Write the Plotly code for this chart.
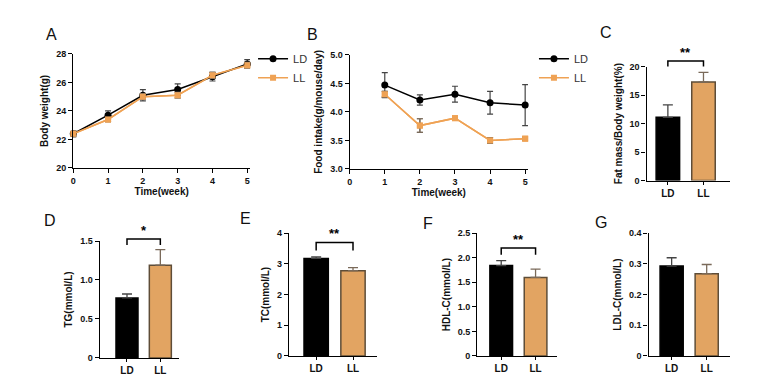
import plotly.graph_objects as go

W, H = 769, 390
OFF = 8  # page body margin in the browser

# ---------------- data ----------------
weeks_a = [0, 1, 2, 3, 4, 5]
bw_ld = [22.4, 23.7, 25.1, 25.5, 26.4, 27.3]
bw_ld_err = [0.2, 0.3, 0.4, 0.4, 0.3, 0.3]
bw_ll = [22.4, 23.4, 25.0, 25.1, 26.5, 27.2]
bw_ll_err = [0.2, 0.15, 0.2, 0.2, 0.2, 0.2]

weeks_b = [1, 2, 3, 4, 5]
fi_ld = [4.47, 4.21, 4.31, 4.16, 4.12]
fi_ld_err = [0.22, 0.09, 0.14, 0.2, 0.36]
fi_ll = [4.31, 3.76, 3.89, 3.50, 3.53]
fi_ll_err = [0.05, 0.12, 0.02, 0.05, 0.03]

groups = ["LD", "LL"]
fat = [11.1, 17.3]; fat_err = [2.2, 1.7]
tg = [0.77, 1.19]; tg_err = [0.05, 0.2]
tc = [3.18, 2.78]; tc_err = [0.05, 0.1]
hdl = [1.84, 1.60]; hdl_err = [0.1, 0.17]
ldl = [0.293, 0.268]; ldl_err = [0.027, 0.03]

BLACK = "#000000"
ORANGE_LINE = "#EFA254"
ORANGE_BAR = "#E2A462"
BAR_EDGE = "#5E4D38"
FONT = "Liberation Sans, Arial, sans-serif"

fig = go.Figure()

def px_x(p):
    return (p - OFF) / W

def px_y(p):
    return 1 - (p - OFF) / H

axis_common = dict(showline=True, linecolor="black", linewidth=1.3, ticks="outside",
                   ticklen=4, tickwidth=1.2, tickcolor="black", showgrid=False, zeroline=False,
                   tickfont=dict(family=FONT, size=9, color="#111", weight="bold"),
                   title_font=dict(family=FONT, size=10, color="#111", weight="bold"))

panels = {
    1: dict(xd=(70.5, 248), yd=(50, 167), xr=[0, 5.08], yr=[20, 28], yt=[20, 22, 24, 26, 28],
            yl=["20", "22", "24", "26", "28"], ytitle="Body weight(g)"),
    2: dict(xd=(348, 527), yd=(51, 168), xr=[0, 5.08], yr=[3, 5], yt=[3, 3.5, 4, 4.5, 5],
            yl=["3.0", "3.5", "4.0", "4.5", "5.0"], ytitle="Food intake(g/mouse/day)"),
    3: dict(xd=(646, 730), yd=(63, 180), xr=[-0.6, 1.75], yr=[0, 20], yt=[0, 5, 10, 15, 20],
            yl=["0", "5", "10", "15", "20"], ytitle="Fat mass/Body weight(%)"),
    4: dict(xd=(97, 177), yd=(242, 362), xr=[-0.82, 1.57], yr=[0, 1.5], yt=[0, 0.5, 1.0, 1.5],
            yl=["0", "0.5", "1.0", "1.5"], ytitle="TG(mmol/L)"),
    5: dict(xd=(287, 375), yd=(234, 360), xr=[-0.74, 1.64], yr=[0, 4], yt=[0, 1, 2, 3, 4],
            yl=["0", "1", "2", "3", "4"], ytitle="TC(mmol/L)"),
    6: dict(xd=(476, 556), yd=(234, 360), xr=[-0.7, 1.62], yr=[0, 2.5], yt=[0, 0.5, 1.0, 1.5, 2.0, 2.5],
            yl=["0", "0.5", "1.0", "1.5", "2.0", "2.5"], ytitle="HDL-C(mmol/L)"),
    7: dict(xd=(648, 730), yd=(234, 360), xr=[-0.66, 1.67], yr=[0, 0.4], yt=[0, 0.1, 0.2, 0.3, 0.4],
            yl=["0", "0.1", "0.2", "0.3", "0.4"], ytitle="LDL-C(mmol/L)"),
}

layout_axes = {}
for i, p in panels.items():
    xn = "xaxis" if i == 1 else f"xaxis{i}"
    yn = "yaxis" if i == 1 else f"yaxis{i}"
    xa = dict(axis_common)
    ya = dict(axis_common)
    xa.update(domain=[px_x(p["xd"][0]), px_x(p["xd"][1])], range=p["xr"],
              anchor="y" if i == 1 else f"y{i}")
    ya.update(domain=[px_y(p["yd"][1]), px_y(p["yd"][0])], range=p["yr"],
              anchor="x" if i == 1 else f"x{i}", tickvals=p["yt"], ticktext=p["yl"],
              title=dict(text=p["ytitle"], standoff=5))
    if i in (1, 2):
        xa.update(tickvals=[0, 1, 2, 3, 4, 5], ticktext=["0", "1", "2", "3", "4", "5"],
                  title=dict(text="Time(week)", standoff=2))
    else:
        xa.update(tickvals=[0, 1], ticktext=groups, ticklen=3,
                  tickfont=dict(family=FONT, size=10, color="#111", weight="bold"))
    layout_axes[xn] = xa
    layout_axes[yn] = ya

def line_trace(x, y, err, name, color, symbol, ecolor, xa, ya, legend, show):
    return go.Scatter(x=x, y=y, mode="lines+markers", name=name,
                      line=dict(color=color, width=1.5),
                      marker=dict(color=color, symbol=symbol, size=7 if symbol == "circle" else 6),
                      error_y=dict(type="data", array=err, color=ecolor, thickness=1.2, width=3),
                      xaxis=xa, yaxis=ya, legend=legend, showlegend=show, cliponaxis=False)

fig.add_trace(line_trace(weeks_a, bw_ll, bw_ll_err, "LL", ORANGE_LINE, "square", "#9a8a7a", "x", "y", "legend", False))
fig.add_trace(line_trace(weeks_a, bw_ld, bw_ld_err, "LD", BLACK, "circle", "#444", "x", "y", "legend", True))
fig.add_trace(line_trace(weeks_a, bw_ll, bw_ll_err, "LL", ORANGE_LINE, "square", "#9a8a7a", "x", "y", "legend", True))
fig.add_trace(line_trace(weeks_b, fi_ll, fi_ll_err, "LL", ORANGE_LINE, "square", "#7a6a5a", "x2", "y2", "legend2", False))
fig.add_trace(line_trace(weeks_b, fi_ld, fi_ld_err, "LD", BLACK, "circle", "#444", "x2", "y2", "legend2", True))
fig.add_trace(line_trace(weeks_b, fi_ll, fi_ll_err, "LL", ORANGE_LINE, "square", "#7a6a5a", "x2", "y2", "legend2", True))

bar_data = {3: (fat, fat_err), 4: (tg, tg_err), 5: (tc, tc_err), 6: (hdl, hdl_err), 7: (ldl, ldl_err)}
for i, (vals, errs) in bar_data.items():
    for k in range(2):
        fig.add_trace(go.Bar(
            x=[k], y=[vals[k]], width=0.66,
            marker=dict(color=BLACK if k == 0 else ORANGE_BAR,
                        line=dict(color=BLACK if k == 0 else BAR_EDGE, width=1.5)),
            error_y=dict(type="data", symmetric=False, array=[errs[k]], arrayminus=[0],
                         color="#444" if k == 0 else "#7a6a5a", thickness=1.3, width=5),
            xaxis=f"x{i}", yaxis=f"y{i}", showlegend=False))

def val_to_py(i, v):
    p = panels[i]
    top, bot = p["yd"]
    lo, hi = p["yr"]
    return px_y(bot - (v - lo) / (hi - lo) * (bot - top))

sig = {3: ("**", 21.0, 20.0), 4: ("*", 1.525, 1.45), 5: ("**", 3.70, 3.44), 6: ("**", 2.20, 2.06)}
shapes = []
annotations = []
for i, (txt, ytop, yleg) in sig.items():
    yt = val_to_py(i, ytop)
    yb = val_to_py(i, yleg)
    shapes.append(dict(type="path", xref=f"x{i}", yref="paper",
                       path=f"M 0,{yb} L 0,{yt} L 1,{yt} L 1,{yb}",
                       line=dict(color="black", width=1.5)))
    annotations.append(dict(x=0.5, y=yt, xref=f"x{i}", yref="paper", text=txt, showarrow=False,
                            yanchor="bottom", yshift=-1,
                            font=dict(family=FONT, size=13, color="black", weight="bold")))

letters = [("A", 48.5, 30), ("B", 310.5, 30), ("C", 605, 28), ("D", 47, 221),
           ("E", 243, 219), ("F", 427, 224), ("G", 600, 223)]
for t, x, y in letters:
    annotations.append(dict(x=px_x(x), y=px_y(y), xref="paper", yref="paper", text=t, showarrow=False,
                            xanchor="center", yanchor="middle",
                            font=dict(family=FONT, size=16, color="#111")))

legend_style = dict(font=dict(family=FONT, size=11, color="#333"), bgcolor="rgba(0,0,0,0)",
                    xanchor="left", yanchor="top", itemwidth=30, tracegroupgap=0)
fig.update_layout(
    width=W, height=H, margin=dict(l=0, r=0, t=0, b=0),
    paper_bgcolor="white", plot_bgcolor="white",
    legend=dict(x=px_x(251), y=px_y(40), **legend_style),
    legend2=dict(x=px_x(533), y=px_y(40), **legend_style),
    shapes=shapes, annotations=annotations, barmode="overlay",
    **layout_axes,
)

fig.write_html("out.html")
